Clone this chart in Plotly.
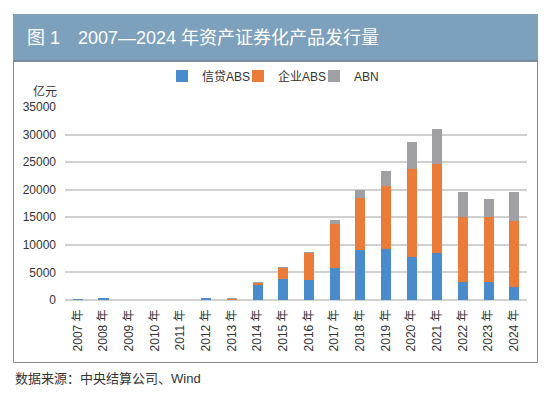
import plotly.graph_objects as go

years = [str(y) for y in range(2007, 2025)]
categories = [y + " 年" for y in years]
credit_abs = [178, 302, 0, 0, 0, 193, 160, 2820, 3800, 3610, 5720, 9040, 9340, 7850, 8580, 3330, 3200, 2300]
corp_abs = [0, 0, 0, 0, 0, 0, 70, 330, 2100, 4940, 8130, 9520, 11300, 15850, 16080, 11780, 11910, 12090]
abn = [0, 0, 0, 0, 0, 0, 30, 90, 50, 150, 660, 1330, 2720, 5010, 6290, 4530, 3210, 5250]
y_ticks = [0, 5000, 10000, 15000, 20000, 25000, 30000, 35000]

# page has an 8px body margin; work in page pixel coordinates and offset
OFF = 8
W, H = 550 - OFF, 397 - OFF
L, R, T, B = 65, 527, 107, 300

def px(x):
    return (x - L) / (R - L)

def py(y):
    return (B - y) / (B - T)

FONT = "Liberation Sans, Noto Sans CJK SC, sans-serif"

fig = go.Figure()
fig.add_bar(x=categories, y=credit_abs, name="信贷ABS", marker_color="#4A8BCB", marker_line_width=0)
fig.add_bar(x=categories, y=corp_abs, name="企业ABS", marker_color="#EB7B38", marker_line_width=0)
fig.add_bar(x=categories, y=abn, name="ABN", marker_color="#A0A0A4", marker_line_width=0)

fig.update_layout(
    width=W, height=H,
    margin=dict(l=L - OFF, r=550 - R, t=T - OFF, b=397 - B, pad=0),
    barmode="stack", bargap=0.61,
    plot_bgcolor="white", paper_bgcolor="white",
    font=dict(family=FONT, size=12, color="#333333"),
    showlegend=True,
    legend=dict(orientation="h", x=px(162), xanchor="left", y=py(76), yanchor="middle",
                font=dict(size=12, color="#333333"), entrywidth=31, entrywidthmode="pixels",
                itemwidth=30, bgcolor="rgba(0,0,0,0)", traceorder="normal"),
    xaxis=dict(tickangle=-90, showgrid=False, showline=False, ticks="", tickfont=dict(size=12),
               ticklabelstandoff=6),
    yaxis=dict(range=[0, 35000], tickvals=y_ticks, tickformat="d", showgrid=True,
               gridcolor="#D0D0D0", gridwidth=2, zeroline=True, zerolinecolor="#D0D0D0",
               zerolinewidth=2, showline=False, ticks="", ticklabelstandoff=8,
               tickfont=dict(size=12)),
    shapes=[
        dict(type="rect", xref="paper", yref="paper", x0=px(13.5), x1=px(537.5), y0=py(61), y1=py(362.5),
             line=dict(color="#8A8A8A", width=1), fillcolor="rgba(0,0,0,0)", layer="below"),
        dict(type="rect", xref="paper", yref="paper", x0=px(13), x1=px(538), y0=py(14), y1=py(61),
             line=dict(width=0), fillcolor="#7DA1BD", layer="below"),
        dict(type="line", xref="paper", yref="paper", x0=px(13), x1=px(538), y0=py(61), y1=py(61),
             line=dict(color="#6F7E8A", width=1.5)),
    ],
    annotations=[
        dict(text="图 1　2007—2024 年资产证券化产品发行量", xref="paper", yref="paper",
             x=px(25), y=py(38), xanchor="left", yanchor="middle", showarrow=False,
             font=dict(size=18, color="white")),
        dict(text="亿元", xref="paper", yref="paper", x=px(45), y=py(92), xanchor="center",
             yanchor="middle", showarrow=False, font=dict(size=12, color="#333333")),
        dict(text="数据来源：中央结算公司、Wind", xref="paper", yref="paper", x=px(13), y=py(378),
             xanchor="left", yanchor="middle", showarrow=False, font=dict(size=13, color="#333333")),
    ],
)

fig.write_html("out.html")
